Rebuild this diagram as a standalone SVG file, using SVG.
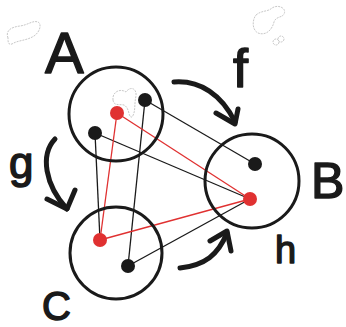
<svg xmlns="http://www.w3.org/2000/svg" width="346" height="327" viewBox="0 0 346 327">
<style>
.ring{fill:none;stroke:#1a1a1a;stroke-width:3}
.dot{fill:#1a1a1a}
.red{fill:#e03131}
.lk{stroke:#1a1a1a;stroke-width:1.3;fill:none}
.lr{stroke:#e03131;stroke-width:1.3;fill:none}
.arr{fill:none;stroke:#1a1a1a;stroke-width:5;stroke-linecap:round;stroke-linejoin:round}
.lbl{font-family:"Liberation Sans",Arial,sans-serif;fill:#1a1a1a;stroke:#1a1a1a;stroke-width:1.5;stroke-linejoin:round}
.sk{fill:none;stroke:#c8c8c8;stroke-width:1;stroke-dasharray:2 1}
</style>
<rect width="346" height="327" fill="#ffffff"/>
<g id="sketches">
<path class="sk" d="M8,38 C5,30 12,27 20,26 C28,25 33,20 38,22 C42,24 40,32 34,36 C26,41 18,40 12,44 C8,45 8,42 8,38 Z"/>
<path class="sk" d="M256,15 C262,10 268,12 272,8 C278,4 287,8 284,14 C282,18 276,16 274,22 C272,30 266,36 258,33 C252,30 252,20 256,15 Z"/>
<circle class="sk" cx="276" cy="42" r="3"/>
<circle class="sk" cx="281" cy="39" r="3"/>
<path class="sk" d="M113,100 C112,92 120,88 126,92 C130,86 137,88 136,96 C134,104 136,112 132,117 C128,118 130,108 124,105 C118,104 114,106 113,100 Z"/>
</g>
<g id="connectors">
<line class="lk" x1="145" y1="100" x2="255" y2="164"/>
<line class="lk" x1="145" y1="100" x2="128" y2="266"/>
<line class="lk" x1="95" y1="133" x2="250" y2="199"/>
<line class="lk" x1="95" y1="133" x2="100" y2="240"/>
<line class="lk" x1="128" y1="266" x2="250" y2="199"/>
<line class="lr" x1="117" y1="113" x2="100" y2="240"/>
<line class="lr" x1="117" y1="113" x2="250" y2="199"/>
<line class="lr" x1="100" y1="240" x2="250" y2="199"/>
</g>
<g id="arrow-f">
<path class="arr" d="M174,82 C200,80 222,95 235,122"/>
<path class="arr" d="M216,113 L235,124 L238,109"/>
</g>
<g id="arrow-g">
<path class="arr" d="M55,139 C40,155 45,185 67,209"/>
<path class="arr" d="M47,199 L67,209 L75,190"/>
</g>
<g id="arrow-h">
<path class="arr" d="M180,268 C205,265 218,255 227,233"/>
<path class="arr" d="M210,241 L227,231 L231,251"/>
</g>
<g id="node-A">
<circle class="ring" cx="116" cy="114" r="47"/>
<circle class="dot" cx="145" cy="100" r="7"/>
<circle class="dot" cx="95" cy="133" r="7"/>
<circle class="red" cx="117" cy="113" r="7"/>
<text class="lbl" x="45" y="73" font-size="58">A</text>
</g>
<g id="node-B">
<circle class="ring" cx="252" cy="181" r="47"/>
<circle class="dot" cx="255" cy="164" r="7"/>
<circle class="red" cx="250" cy="199" r="7"/>
<text class="lbl" x="311" y="198" font-size="50">B</text>
</g>
<g id="node-C">
<circle class="ring" cx="116" cy="253" r="46"/>
<circle class="red" cx="100" cy="240" r="7"/>
<circle class="dot" cx="128" cy="266" r="7"/>
<text class="lbl" x="42" y="320" font-size="40">C</text>
</g>
<g id="labels">
<text class="lbl" x="233" y="87" font-size="54">f</text>
<text class="lbl" x="9" y="178" font-size="44">g</text>
<text class="lbl" x="275" y="263" font-size="38">h</text>
</g>
</svg>
